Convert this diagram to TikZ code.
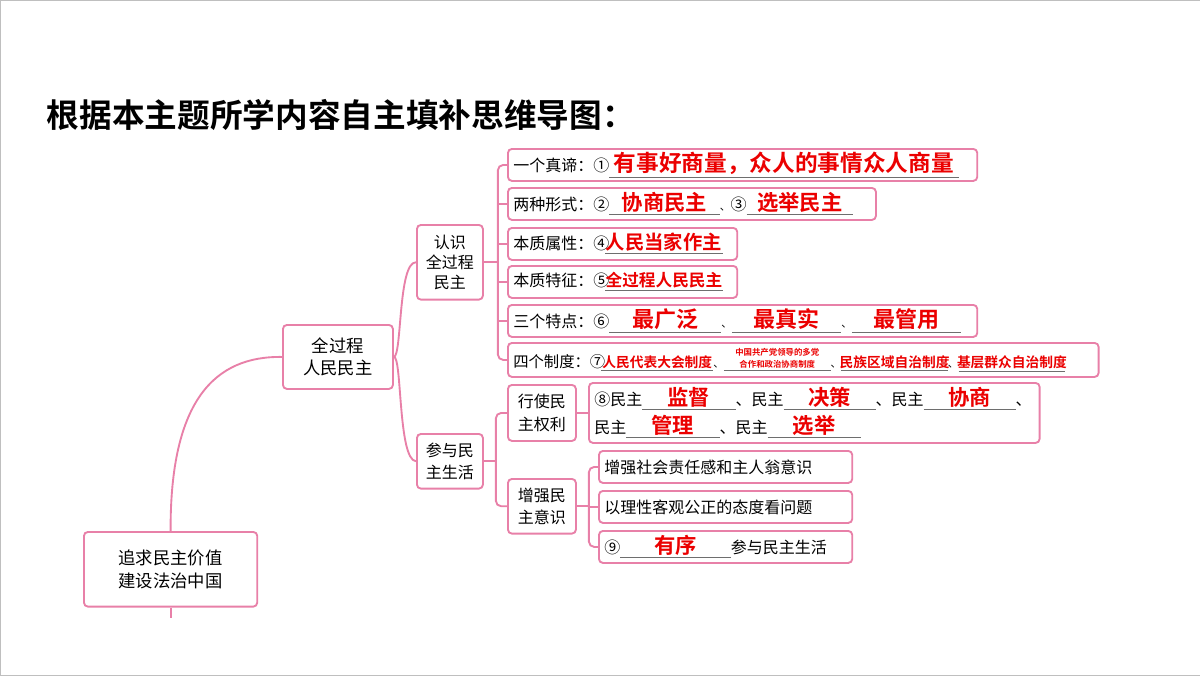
\documentclass[tikz,border=0pt]{standalone}
\usepackage{fontspec}
\setmainfont{Noto Sans CJK SC}
\newfontfamily\titlefont{Noto Sans CJK SC Bold}
\newfontfamily\ansfont{Noto Sans CJK SC Bold}
\definecolor{pinkline}{RGB}{232,128,168}
\definecolor{ansred}{RGB}{235,0,0}
\definecolor{rulegray}{RGB}{110,110,110}
\tikzset{
  rowbox/.style={draw=pinkline, line width=1.4pt, rounded corners=3pt, anchor=north west,
    inner xsep=4pt, inner ysep=0pt, align=left, font=\fontsize{12}{14}\selectfont},
  midbox/.style={draw=pinkline, line width=1.4pt, rounded corners=3pt, anchor=north west,
    inner sep=1pt, align=center, font=\fontsize{13}{17}\selectfont},
  link/.style={draw=pinkline, line width=1.4pt, rounded corners=4pt}
}
% answer blank: width, size, text
\newcommand\ans[3]{{\color{rulegray}\underline{\makebox[#1][c]{\color{ansred}\ansfont\fontsize{#2}{#2}\selectfont #3}}}}
\newcommand\sep{{\fontsize{8}{8}\selectfont 、}}
\begin{document}
\begin{tikzpicture}[x=0.75pt, y=-0.75pt]
\useasboundingbox (0,0) rectangle (1200,675);
\fill[white, draw=black!25] (0,0) rectangle (1200,675);

\node[anchor=west, font=\titlefont\fontsize{24.5}{26}\selectfont] (title) at (42,115) {根据本主题所学内容自主填补思维导图：};

% main branch nodes
\node[midbox, minimum width=130pt, minimum height=56pt] (root) at (83,531) {追求民主价值\\建设法治中国};
\node[midbox, minimum width=82.5pt, minimum height=48pt] (qgc) at (282,324) {全过程\\人民民主};
\node[midbox, minimum width=49.5pt, minimum height=56pt, font=\fontsize{12}{15}\selectfont] (rs) at (416,224) {认识\\全过程\\民主};
\node[midbox, minimum width=49.5pt, minimum height=41pt, font=\fontsize{12}{17}\selectfont] (cy) at (416,433) {参与民\\主生活};
\node[midbox, minimum width=51pt, minimum height=42pt, font=\fontsize{12}{17}\selectfont] (xs) at (507,384) {行使民\\主权利};
\node[midbox, minimum width=51pt, minimum height=41pt, font=\fontsize{12}{17}\selectfont] (zq) at (507,478) {增强民\\主意识};

% rows of the first branch
\node[rowbox, text width=344pt, minimum height=24pt] (r1) at (507,148)
  {\mbox{一个真谛：①\ans{262pt}{17}{有事好商量，众人的事情众人商量}}};
\node[rowbox, text width=268pt, minimum height=24pt] (r2) at (507,187)
  {\mbox{两种形式：②\ans{83pt}{16}{协商民主}\sep③\ans{80pt}{16}{选举民主}}};
\node[rowbox, text width=164pt, minimum height=24pt] (r3) at (507,227)
  {\mbox{本质属性：④\hspace{-3pt}\ans{88pt}{14.5}{人民当家作主}}};
\node[rowbox, text width=164pt, minimum height=24pt] (r4) at (507,265)
  {\mbox{本质特征：⑤\hspace{-3pt}\ans{88pt}{12.5}{全过程人民民主}}};
\node[rowbox, text width=344pt, minimum height=24pt] (r5) at (507,304)
  {\mbox{三个特点：⑥\ans{84pt}{16.5}{最广泛}\sep\ans{82pt}{16.5}{最真实}\sep\ans{82pt}{16.5}{最管用}}};
\node[rowbox, text width=435pt, minimum height=25.5pt, font=\fontsize{11.5}{14}\selectfont] (r6) at (507,342)
  {\mbox{四个制度：⑦\hspace{-3pt}\ans{84pt}{10.3}{人民代表大会制度}\sep\ans{80pt}{6.3}{\shortstack{中国共产党领导的多党\\合作和政治协商制度}}\sep\ans{80pt}{10.3}{民族区域自治制度}\sep\ans{80pt}{10.3}{基层群众自治制度}}};

% rights box
\node[rowbox, text width=330pt, minimum height=45pt, font=\fontsize{12}{21}\selectfont] (r8) at (588,382)
  {\mbox{⑧民主\ans{70pt}{16}{监督}、民主\ans{69pt}{16}{决策}、民主\ans{69pt}{16}{协商}、}\\
   \mbox{民主\ans{70pt}{16}{管理}、民主\ans{70pt}{16}{选举}}};

% awareness rows
\node[rowbox, text width=182pt, minimum height=24pt] (z1) at (598,450) {增强社会责任感和主人翁意识};
\node[rowbox, text width=182pt, minimum height=24pt] (z2) at (598,490) {以理性客观公正的态度看问题};
\node[rowbox, text width=182pt, minimum height=24pt] (z3) at (598,530)
  {\mbox{⑨\ans{83pt}{16}{有序}参与民主生活}};

% connectors
\draw[link] (root.north) .. controls (170,400) and (215,356) .. (qgc.west);
\draw[link] (root.south) -- ++(0,10);
\draw[link] (qgc.east) .. controls (402,356) and (398,262) .. (rs.west);
\draw[link] (qgc.east) .. controls (402,356) and (398,460) .. (cy.west);

\draw[link] (rs.east) -- ++(14,0) coordinate (rsb);
\draw[link] (r1.west) -| (rsb) |- (r6.west);
\foreach \r in {r2,r3,r4,r5} \draw[link] (rsb |- \r.west) -- (\r.west);

\draw[link] (cy.east) -- ++(12,0) coordinate (cyb);
\draw[link] (xs.west) -| (cyb) |- (zq.west);

\draw[link] (xs.east) -- (r8.west |- xs.east);

\draw[link] (zq.east) -- ++(12,0) coordinate (zqb);
\draw[link] (z1.west) -| (zqb) |- (z3.west);
\draw[link] (zqb |- z2.west) -- (z2.west);

\fill[white] (465,565) rectangle (1110,612);
\end{tikzpicture}
\end{document}
